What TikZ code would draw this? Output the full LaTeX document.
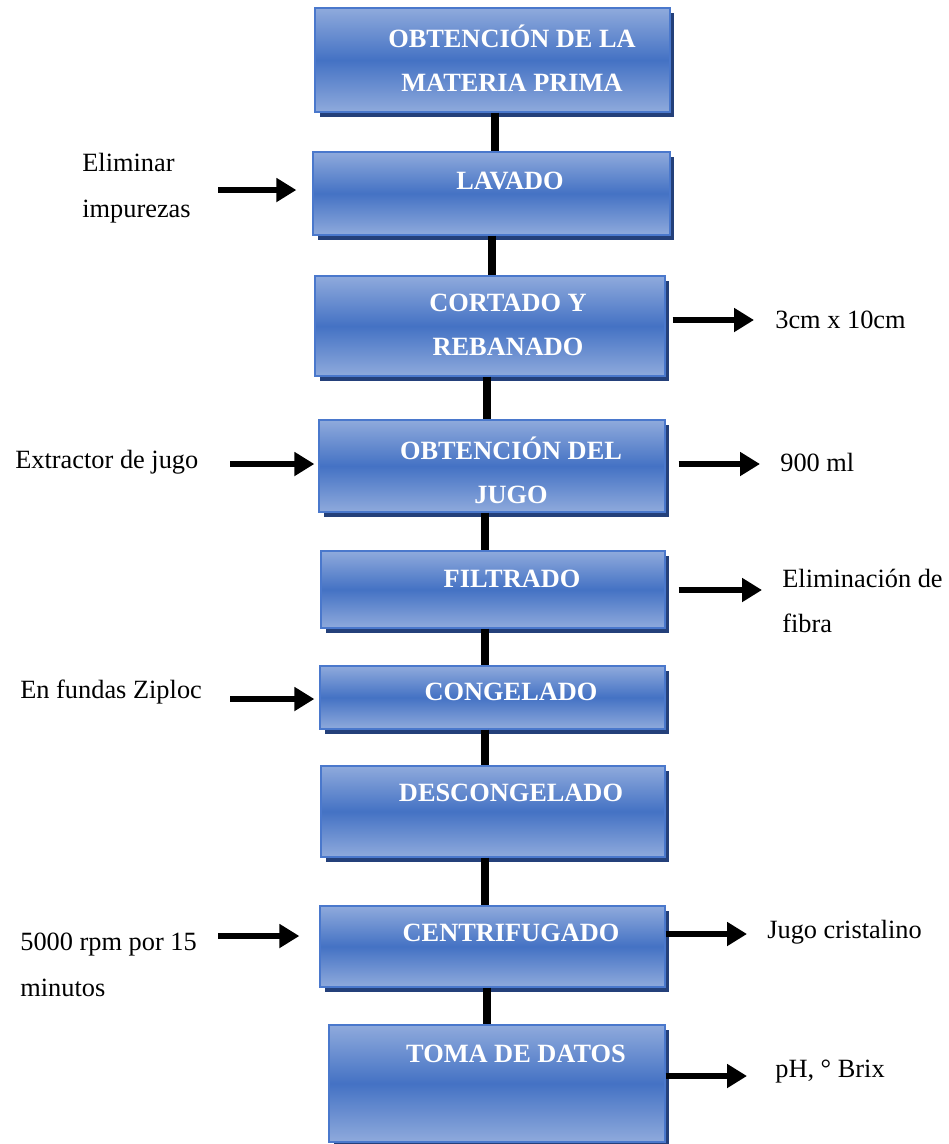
\documentclass[tikz,border=0pt]{standalone}
\usepackage{fontspec}
\setmainfont{Liberation Serif}
\usetikzlibrary{arrows.meta, shadows}
\definecolor{fblight}{HTML}{8FAADC}
\definecolor{fbmid}{HTML}{4472C4}
\definecolor{fbedge}{HTML}{4A78CC}
\definecolor{fbshadow}{HTML}{24407A}

\begin{document}
\begin{tikzpicture}[x=0.02cm, y=-0.02cm,
        proc/.style={draw=fbedge, line width=0.8pt, top color=fblight, bottom color=fblight,
                     middle color=fbmid,
                     drop shadow={shadow xshift=0.09cm, shadow yshift=-0.1cm, fill=fbshadow, opacity=1}},
        ptext/.style={text=white, font=\fontsize{15}{25}\selectfont\bfseries, align=center, inner sep=0pt},
        note/.style={anchor=west, inner sep=0pt, align=left, font=\fontsize{15}{26}\selectfont},
        link/.style={line width=4pt},
        arr/.style={line width=3.4pt, -{Triangle[length=0.4cm, width=0.46cm]}}
    ]
    \useasboundingbox (0,0) rectangle (948,1144);

    % Process boxes
    \node[proc, minimum width=7.1cm,  minimum height=2.08cm] (mp)   at (492.5,60)    {};
    \node[proc, minimum width=7.14cm, minimum height=1.66cm] (lav)  at (491.5,193.5) {};
    \node[proc, minimum width=7.0cm,  minimum height=2.0cm]  (cor)  at (490,326)     {};
    \node[proc, minimum width=6.92cm, minimum height=1.84cm] (jugo) at (492,466)     {};
    \node[proc, minimum width=6.88cm, minimum height=1.54cm] (filt) at (493,589.5)   {};
    \node[proc, minimum width=6.9cm,  minimum height=1.26cm] (cong) at (492.5,697.5) {};
    \node[proc, minimum width=6.88cm, minimum height=1.82cm] (desc) at (493,811.5)   {};
    \node[proc, minimum width=6.9cm,  minimum height=1.62cm] (cent) at (492.5,946.5) {};
    \node[proc, minimum width=6.72cm, minimum height=2.34cm] (toma) at (497,1083.5)  {};

    % Box texts
    \node[ptext] (mp-t)   at (512,58)   {OBTENCIÓN DE LA\\MATERIA PRIMA};
    \node[ptext] (lav-t)  at (510,181)  {LAVADO};
    \node[ptext] (cor-t)  at (508,325)  {CORTADO Y\\REBANADO};
    \node[ptext] (jugo-t) at (511,470)  {OBTENCIÓN DEL\\JUGO};
    \node[ptext] (filt-t) at (512,579)  {FILTRADO};
    \node[ptext] (cong-t) at (511,692)  {CONGELADO};
    \node[ptext] (desc-t) at (511,793)  {DESCONGELADO};
    \node[ptext] (cent-t) at (511,933)  {CENTRIFUGADO};
    \node[ptext] (toma-t) at (516,1054) {TOMA DE DATOS};

    % Side notes
    \node[note] (n-lav)   at (82,188)   {Eliminar\\impurezas};
    \node[note] (n-cor)   at (775,320)  {3cm x 10cm};
    \node[note] (n-ext)   at (15,462)   {Extractor de jugo};
    \node[note] (n-ml)    at (780,462)  {900 ml};
    \node[note] (n-fib)   at (782,601)  {Eliminación de\\fibra};
    \node[note] (n-zip)   at (20,692)   {En fundas Ziploc};
    \node[note] (n-rpm)   at (20,965)   {5000 rpm por 15\\minutos};
    \node[note] (n-cris)  at (767,932)  {Jugo cristalino};
    \node[note] (n-brix)  at (775,1072) {pH, ° Brix};

    % Vertical links between boxes
    \foreach \a/\b/\x in {mp/lav/495, lav/cor/492, cor/jugo/487, jugo/filt/485,
                          filt/cong/485, cong/desc/485, desc/cent/485, cent/toma/487}
        \draw[link] (\a.south -| \x,0) -- (\b.north -| \x,0);

    % Arrows in
    \coordinate (in-lav)  at (218,190);
    \coordinate (in-jugo) at (230,464);
    \coordinate (in-cong) at (230,699);
    \coordinate (in-cent) at (218,936);
    \draw[arr, shorten >=0.32cm] (in-lav)  -- (in-lav -| lav.west);
    \draw[arr, shorten >=0.08cm] (in-jugo) -- (in-jugo -| jugo.west);
    \draw[arr, shorten >=0.1cm]  (in-cong) -- (in-cong -| cong.west);
    \draw[arr, shorten >=0.4cm]  (in-cent) -- (in-cent -| cent.west);

    % Arrows out
    \coordinate (out-cor)  at (754,320);
    \coordinate (out-jugo) at (760,464);
    \coordinate (out-filt) at (762,590);
    \coordinate (out-cent) at (747,934);
    \coordinate (out-toma) at (747,1076);
    \draw[arr, shorten <=0.14cm] (cor.east |- out-cor)   -- (out-cor);
    \draw[arr, shorten <=0.26cm] (jugo.east |- out-jugo) -- (out-jugo);
    \draw[arr, shorten <=0.26cm] (filt.east |- out-filt) -- (out-filt);
    \draw[arr] (cent.east |- out-cent) -- (out-cent);
    \draw[arr] (toma.east |- out-toma) -- (out-toma);
\end{tikzpicture}
\end{document}
